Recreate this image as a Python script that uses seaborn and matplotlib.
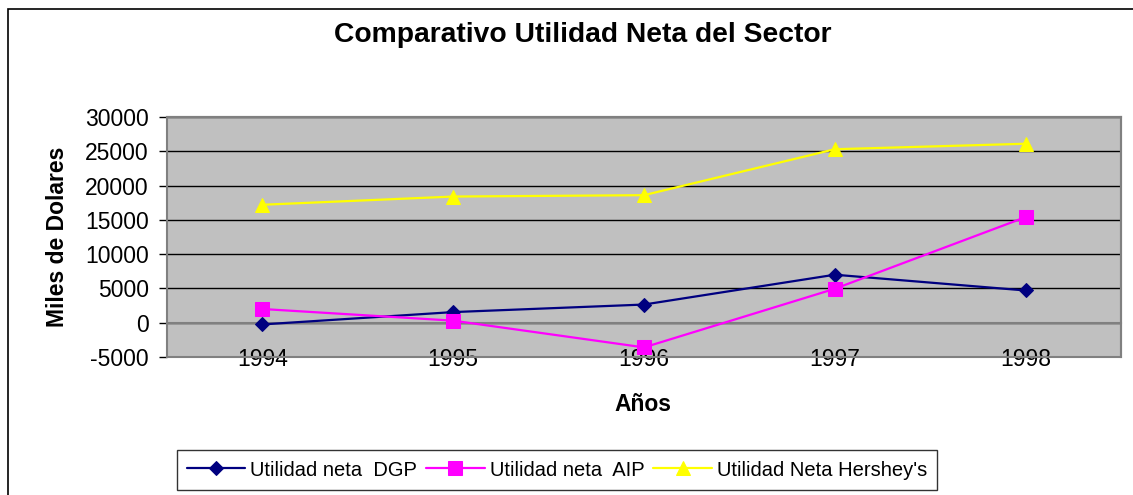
import matplotlib
matplotlib.use("Agg")
import matplotlib.pyplot as plt
from matplotlib.patches import Rectangle
import seaborn as sns
import pandas as pd

# data (miles de dolares)
years = ["1994", "1995", "1996", "1997", "1998"]
dgp = [-250, 1550, 2650, 7000, 4700]
aip = [2000, 300, -3600, 4950, 15400]
hershey = [17200, 18400, 18600, 25300, 26100]

series_names = ["Utilidad neta  DGP", "Utilidad neta  AIP", "Utilidad Neta Hershey's"]
yticks = [-5000, 0, 5000, 10000, 15000, 20000, 25000, 30000]

sns.set_style("white")
plt.rcParams['font.family'] = ['Liberation Sans', 'DejaVu Sans']
plt.rcParams['text.color'] = 'black'
plt.rcParams['axes.labelcolor'] = 'black'
plt.rcParams['xtick.color'] = 'black'
plt.rcParams['ytick.color'] = 'black'

fig = plt.figure(figsize=(11.33, 4.95), dpi=100)
ax = fig.add_axes([167/1133, 1 - 357/495, 954/1133, 240/495])
ax.set_facecolor("#C0C0C0")

pos = list(range(len(years)))
df = pd.DataFrame({"pos": pos, "dgp": dgp, "aip": aip, "hershey": hershey})

# one call per series, each with its own marker
styles = [
    ("dgp", "#000080", "D", 7),
    ("aip", "#FF00FF", "s", 9.5),
    ("hershey", "#FFFF00", "^", 10),
]
for (col, color, mk, ms), name in zip(styles, series_names):
    sns.lineplot(data=df, x="pos", y=col, ax=ax, color=color, marker=mk,
                 markersize=ms, markeredgecolor=color, linewidth=1.6,
                 label=name, zorder=3)

ax.set_xlim(-0.5, len(years) - 0.5)
ax.set_ylim(yticks[0], yticks[-1])
ax.set_yticks(yticks)
ax.set_yticklabels([str(v) for v in yticks], fontsize=16.5)

# horizontal gridlines
ax.yaxis.grid(True, color="black", linewidth=1)
ax.xaxis.grid(False)
ax.set_axisbelow(True)

# category axis crosses at zero, labels stay at the bottom
ax.spines['bottom'].set_position(('data', 0))
ax.spines['bottom'].set_color("#808080")
ax.spines['bottom'].set_linewidth(1.5)
ax.set_xticks(pos)
ax.set_xticklabels(years, fontsize=16.5)
ax.set_xticks([p + 0.5 for p in pos], minor=True)
ax.tick_params(axis='x', which='major', length=0, pad=18.5)
ax.tick_params(axis='x', which='minor', length=6, width=1, color="black", direction='out')
ax.tick_params(axis='y', length=6, width=1, color="black", direction='out', pad=7, left=True)
for t in ax.get_xticklabels():
    t.set_zorder(5)

ax.spines['left'].set_color("black")
ax.spines['left'].set_linewidth(1.2)
ax.spines['top'].set_color("#808080")
ax.spines['top'].set_linewidth(1.5)
ax.spines['right'].set_color("#808080")
ax.spines['right'].set_linewidth(1.5)
# lower border of the plot area
ax.add_patch(Rectangle((0, 0), 1, 1, transform=ax.transAxes, fill=False,
                       edgecolor="#808080", linewidth=1.5, zorder=4, clip_on=False))

ax.set_xlabel("Años", fontsize=16.5, fontweight='bold')
ax.xaxis.set_label_coords(0.499, -0.148)
ax.set_ylabel("Miles de Dolares", fontsize=16.5, fontweight='bold')
ax.yaxis.set_label_coords(-0.103, 0.5)

fig.text(583/1133, 1 - 35/495, "Comparativo Utilidad Neta del Sector",
         fontsize=20.3, fontweight='bold', ha='center', va='center')

ax.get_legend().remove()
handles, labels = ax.get_legend_handles_labels()
leg = fig.legend(handles, labels, loc='center', ncol=3,
                 bbox_to_anchor=(557/1133, 1 - 470/495), fontsize=14.5,
                 frameon=True, fancybox=False, edgecolor='black',
                 handlelength=2.9, columnspacing=0.45, handletextpad=0.25,
                 borderpad=0.5)
leg.get_frame().set_linewidth(1)

# outer chart border (runs off the right and bottom edges)
fig.patches.append(Rectangle((8/1133, -0.1), 2, 1.1 - 9/495, transform=fig.transFigure,
                             fill=False, edgecolor='black', linewidth=1.2))

fig.savefig("out.png", dpi=100)
